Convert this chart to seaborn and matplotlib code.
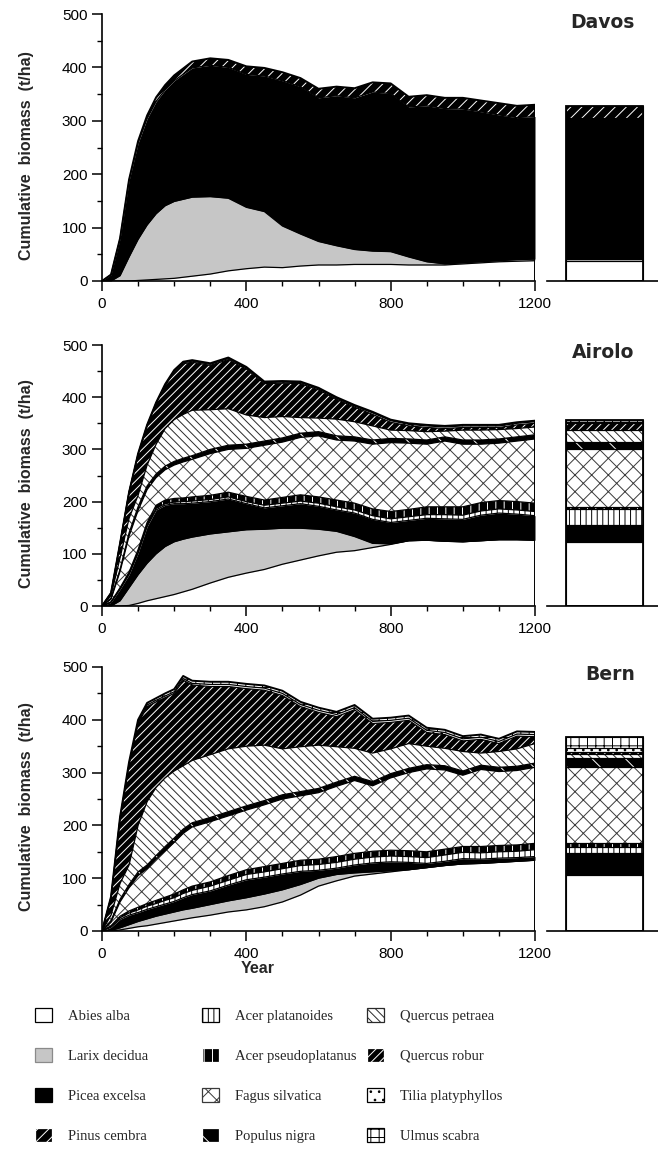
import numpy as np
import matplotlib
matplotlib.use("Agg")
import matplotlib.pyplot as plt
from matplotlib.patches import Patch
from matplotlib.ticker import MultipleLocator
import seaborn as sns

# ---------------- data ----------------
years = [0, 25, 50, 75, 100, 125, 150, 175, 200, 225, 250, 300, 350, 400, 450,
         500, 550, 600, 650, 700, 750, 800, 850, 900, 950, 1000, 1050, 1100, 1150, 1200]

species = ["Abies alba", "Larix decidua", "Picea excelsa", "Pinus cembra",
           "Acer platanoides", "Acer pseudoplatanus", "Fagus silvatica", "Populus nigra",
           "Quercus petraea", "Quercus robur", "Tilia platyphyllos", "Ulmus scabra"]

sites = ["Davos", "Airolo", "Bern"]

# Davos: upper edges of the stacked layers (t/ha) and thin-layer thickness
davos_abies_top = [0, 0, 0, 0, 1, 2, 3, 4, 5, 7, 9, 13, 19, 23, 26, 25, 28, 30, 30, 31,
                   31, 31, 30, 30, 30, 32, 34, 36, 37, 38]
davos_larix_top = [0, 0, 10, 45, 78, 105, 126, 141, 149, 153, 157, 158, 155, 138, 130,
                   103, 88, 74, 66, 59, 56, 55, 45, 36, 32, 34, 36, 38, 40, 41]
davos_total = [0, 12, 80, 190, 262, 310, 344, 367, 385, 398, 411, 417, 414, 402, 399,
               391, 380, 360, 364, 361, 372, 370, 345, 348, 343, 343, 338, 333, 328, 330]
davos_pinus = [0, 0, 1, 2, 4, 6, 8, 9, 10, 11, 12, 13, 14, 15, 15, 16, 16, 17, 17, 18,
               18, 19, 19, 20, 20, 21, 21, 22, 22, 22]

# Airolo
airolo_abies_top = [0, 0, 0, 1, 5, 10, 14, 18, 22, 27, 32, 44, 55, 63, 70, 80, 88, 96,
                    103, 106, 112, 118, 125, 126, 124, 123, 125, 127, 127, 126]
airolo_larix_top = [0, 0, 10, 35, 60, 82, 100, 114, 123, 128, 132, 138, 142, 146, 147,
                    149, 149, 147, 143, 133, 120, 119, 125, 126, 124, 123, 125, 127, 127, 126]
airolo_acer_top = [0, 8, 35, 65, 108, 160, 193, 203, 206, 207, 209, 212, 218, 210, 203,
                   208, 213, 209, 203, 197, 186, 181, 185, 190, 190, 190, 198, 202, 200, 197]
airolo_acer_pl = [0, 0, 1, 2, 2, 3, 3, 3, 3, 4, 4, 4, 4, 4, 5, 5, 5, 6, 6, 6, 7, 7, 7, 7,
                  8, 8, 8, 8, 8, 8]
airolo_acer_ps = [0, 1, 2, 3, 5, 5, 6, 7, 7, 7, 8, 8, 9, 10, 10, 11, 12, 12, 13, 13, 13,
                  14, 14, 15, 15, 16, 16, 16, 16, 16]
airolo_populus_top = [0, 15, 70, 140, 190, 230, 253, 268, 277, 283, 288, 300, 308, 310,
                      316, 322, 331, 334, 326, 324, 318, 321, 320, 318, 324, 318, 318, 320, 324, 328]
airolo_populus = [0, 2, 4, 6, 7, 7, 7, 7, 7, 7, 7, 8, 8, 8, 8, 8, 8, 8, 8, 8, 8, 8, 8, 8,
                  8, 8, 8, 8, 8, 8]
airolo_qpetraea_top = [0, 20, 92, 168, 212, 270, 310, 340, 357, 367, 375, 376, 378, 366,
                       361, 363, 361, 360, 358, 353, 345, 337, 336, 334, 335, 337, 337, 338, 340, 343]
airolo_tilia = [0, 0, 0, 0, 1, 1, 1, 2, 2, 2, 2, 2, 2, 2, 2, 2, 2, 2, 2, 2, 3, 3, 3, 3, 3,
                3, 3, 3, 3, 3]
airolo_ulmus = [0, 0, 0, 0, 1, 1, 1, 1, 2, 2, 2, 2, 2, 2, 2, 2, 2, 2, 2, 2, 2, 2, 2, 2, 2,
                2, 2, 2, 2, 2]
airolo_total = [0, 25, 120, 218, 292, 347, 390, 425, 452, 468, 471, 465, 476, 458, 430,
                431, 430, 418, 400, 385, 372, 357, 350, 347, 345, 347, 347, 347, 352, 355]

# Bern
bern_abies_top = [0, 0, 2, 5, 8, 10, 13, 16, 19, 22, 25, 30, 36, 40, 46, 55, 68, 85, 95,
                  104, 108, 112, 116, 120, 124, 127, 128, 130, 132, 134]
bern_larix_top = [0, 1, 6, 12, 18, 23, 28, 32, 36, 40, 43, 50, 57, 63, 70, 78, 88, 100,
                  107, 110, 112, 114, 116, 120, 124, 127, 128, 130, 132, 134]
bern_acer_top = [0, 10, 28, 38, 45, 52, 58, 64, 70, 78, 85, 93, 105, 116, 122, 128, 134,
                 136, 141, 147, 151, 153, 152, 150, 155, 160, 160, 162, 163, 166]
bern_acer_pl = [0, 2, 3, 4, 5, 6, 6, 7, 7, 8, 8, 9, 9, 10, 10, 10, 11, 11, 11, 11, 11, 11,
                11, 11, 12, 12, 12, 12, 12, 13]
bern_acer_ps = [0, 1, 3, 4, 5, 5, 6, 6, 7, 7, 8, 8, 9, 9, 10, 10, 10, 10, 11, 11, 11, 11,
                11, 11, 11, 11, 12, 12, 12, 12]
bern_populus_top = [0, 20, 60, 88, 112, 125, 143, 160, 176, 193, 205, 215, 226, 237, 247,
                    258, 264, 270, 282, 293, 283, 298, 308, 315, 313, 303, 314, 310, 312, 318]
bern_populus = [0, 3, 5, 6, 7, 7, 7, 8, 8, 8, 8, 8, 8, 8, 8, 8, 8, 8, 8, 8, 8, 8, 8, 8, 8,
                8, 8, 8, 8, 8]
bern_qpetraea_top = [0, 30, 90, 125, 200, 245, 272, 290, 303, 313, 323, 334, 345, 350,
                     352, 345, 349, 352, 349, 346, 337, 345, 355, 350, 346, 340, 337, 340, 345, 355]
bern_tilia = [0, 1, 2, 2, 3, 3, 3, 3, 3, 3, 3, 4, 4, 4, 4, 4, 4, 4, 4, 4, 4, 4, 4, 4, 4, 4,
              4, 4, 4, 4]
bern_ulmus = [0, 1, 2, 3, 4, 4, 4, 5, 5, 5, 5, 5, 5, 5, 5, 5, 5, 5, 5, 5, 5, 5, 5, 5, 5, 5,
              5, 5, 5, 5]
bern_total = [0, 65, 216, 320, 400, 432, 441, 450, 458, 483, 474, 472, 472, 468, 465, 455,
              434, 423, 415, 428, 402, 404, 408, 385, 381, 369, 372, 364, 378, 377]

# Equilibrium bars (t/ha per species, in species order)
davos_bar = [38, 4, 263, 22, 0, 0, 0, 0, 0, 0, 0, 0]
airolo_bar = [122, 0, 33, 0, 30, 5, 110, 15, 22, 13, 3, 3]
bern_bar = [106, 0, 41, 0, 13, 6, 145, 16, 9, 3, 7, 22]

# ---------------- styles ----------------
STYLE = {
    "Abies alba":          dict(fc="white",   hc="black", hatch=None),
    "Larix decidua":       dict(fc="#c6c6c6", hc="#8a8a8a", hatch=None),
    "Picea excelsa":       dict(fc="black",   hc="black", hatch=None),
    "Pinus cembra":        dict(fc="black",   hc="white", hatch="///"),
    "Acer platanoides":    dict(fc="white",   hc="black", hatch="|||"),
    "Acer pseudoplatanus": dict(fc="black",   hc="white", hatch="||"),
    "Fagus silvatica":     dict(fc="white",   hc="#3a3a3a", hatch="xx"),
    "Populus nigra":       dict(fc="black",   hc="white", hatch="\\"),
    "Quercus petraea":     dict(fc="white",   hc="#2a2a2a", hatch="\\\\\\\\"),
    "Quercus robur":       dict(fc="black",   hc="white", hatch="////"),
    "Tilia platyphyllos":  dict(fc="white",   hc="black", hatch=".."),
    "Ulmus scabra":        dict(fc="white",   hc="black", hatch="++"),
}

# ---------------- theme ----------------
sns.set_style("ticks")
plt.rcParams["font.family"] = ["Liberation Sans", "DejaVu Sans"]
plt.rcParams["hatch.linewidth"] = 0.7
plt.rcParams["axes.linewidth"] = 1.2
plt.rcParams["xtick.major.size"] = 7
plt.rcParams["ytick.major.size"] = 7
plt.rcParams["xtick.minor.size"] = 3.5
plt.rcParams["ytick.minor.size"] = 3.5
plt.rcParams["xtick.major.width"] = 1.1
plt.rcParams["ytick.major.width"] = 1.1
plt.rcParams["xtick.minor.width"] = 1.0
plt.rcParams["ytick.minor.width"] = 1.0
plt.rcParams["xtick.color"] = "black"
plt.rcParams["ytick.color"] = "black"
plt.rcParams["axes.edgecolor"] = "black"


def arr(x):
    return np.asarray(x, dtype=float)


def davos_layers():
    total = arr(davos_total)
    return [("Abies alba", arr(davos_abies_top)),
            ("Larix decidua", arr(davos_larix_top)),
            ("Picea excelsa", total - arr(davos_pinus)),
            ("Pinus cembra", total)]


def full_layers(abies, larix, acer_top, acer_pl, acer_ps, pop_top, pop, qpet_top,
                tilia, ulmus, total):
    acer_top = arr(acer_top)
    pop_top = arr(pop_top)
    total = arr(total)
    return [("Abies alba", arr(abies)),
            ("Larix decidua", arr(larix)),
            ("Picea excelsa", acer_top - arr(acer_ps) - arr(acer_pl)),
            ("Acer platanoides", acer_top - arr(acer_ps)),
            ("Acer pseudoplatanus", acer_top),
            ("Fagus silvatica", pop_top - arr(pop)),
            ("Populus nigra", pop_top),
            ("Quercus petraea", arr(qpet_top)),
            ("Quercus robur", total - arr(tilia) - arr(ulmus)),
            ("Tilia platyphyllos", total - arr(ulmus)),
            ("Ulmus scabra", total)]


site_layers = {
    "Davos": davos_layers(),
    "Airolo": full_layers(airolo_abies_top, airolo_larix_top, airolo_acer_top,
                          airolo_acer_pl, airolo_acer_ps, airolo_populus_top,
                          airolo_populus, airolo_qpetraea_top, airolo_tilia,
                          airolo_ulmus, airolo_total),
    "Bern": full_layers(bern_abies_top, bern_larix_top, bern_acer_top, bern_acer_pl,
                        bern_acer_ps, bern_populus_top, bern_populus,
                        bern_qpetraea_top, bern_tilia, bern_ulmus, bern_total),
}
site_bars = {"Davos": davos_bar, "Airolo": airolo_bar, "Bern": bern_bar}

# ---------------- figure ----------------
W, H = 658, 1152
fig = plt.figure(figsize=(W / 100, H / 100), dpi=100)

# panel geometry in pixels: (y of 0, y of 500)
panel_px = {"Davos": (281, 14), "Airolo": (606, 345), "Bern": (931, 667)}
x0_px, x1_px = 102, 535
bx0_px, bx1_px = 547, 658

yrs = np.asarray(years, dtype=float)

for i, site in enumerate(sites):
    yb, yt = panel_px[site]
    bottom = (H - yb) / H
    height = (yb - yt) / H
    ax = fig.add_axes([x0_px / W, bottom, (x1_px - x0_px) / W, height])
    bx = fig.add_axes([bx0_px / W, bottom, (bx1_px - bx0_px) / W, height])

    layers = site_layers[site]
    prev = np.zeros_like(yrs)
    for sp, top in layers:
        st = STYLE[sp]
        ax.fill_between(yrs, prev, top, facecolor=st["fc"], edgecolor=st["hc"],
                        hatch=st["hatch"], linewidth=0, zorder=2)
        prev = top
    for k, (sp, top) in enumerate(layers):
        lw = 1.4 if k == len(layers) - 1 else 0.9
        sns.lineplot(x=yrs, y=top, ax=ax, color="black", linewidth=lw,
                     estimator=None, sort=False, legend=False, zorder=3)
    total = layers[-1][1]
    ax.plot([yrs[-1], yrs[-1]], [0, total[-1]], color="black", lw=1.4, zorder=3)

    ax.set_xlim(0, 1200)
    ax.set_ylim(0, 500)
    ax.xaxis.set_major_locator(MultipleLocator(400))
    ax.xaxis.set_minor_locator(MultipleLocator(100))
    ax.yaxis.set_major_locator(MultipleLocator(100))
    ax.yaxis.set_minor_locator(MultipleLocator(50))
    ax.tick_params(axis="both", which="major", labelsize=11, pad=3.5)
    ax.tick_params(axis="x", which="major", pad=4.5)
    sns.despine(ax=ax)
    ax.spines["left"].set_zorder(5)
    ax.spines["bottom"].set_zorder(5)
    ax.set_xlabel("")
    ax.set_ylabel("Cumulative  biomass  (t/ha)", fontweight="bold", fontsize=11.5)
    ax.yaxis.set_label_coords(-0.158, 0.47)

    # equilibrium bar
    vals = site_bars[site]
    b = 0.0
    for sp, v in zip(species, vals):
        if v <= 0:
            continue
        st = STYLE[sp]
        bx.bar(0.516, v, width=0.698, bottom=b, color=st["fc"], edgecolor=st["hc"],
               hatch=st["hatch"], linewidth=0, zorder=2)
        bx.bar(0.516, v, width=0.698, bottom=b, fill=False, edgecolor="black",
               linewidth=0.8, zorder=3)
        b += v
    bx.bar(0.516, b, width=0.698, bottom=0, fill=False, edgecolor="black",
           linewidth=1.3, zorder=4)
    bx.set_xlim(0, 1)
    bx.set_ylim(0, 500)
    for s in ["left", "right", "top"]:
        bx.spines[s].set_visible(False)
    bx.set_xticks([])
    bx.set_yticks([])
    bx.spines["bottom"].set_zorder(5)
    bx.text(0.79, 485, site, ha="right", va="center", fontweight="bold", fontsize=13.5,
            family=["DejaVu Sans"])

    if site == "Bern":
        ax.set_xlabel("Year", fontweight="bold", fontsize=11.5)
        ax.xaxis.set_label_coords(0.36, -0.115)

# ---------------- legend (three columns) ----------------
col_x = [35, 202, 367]
top_px = 1008
for c in range(3):
    handles = []
    for sp in species[c * 4:(c + 1) * 4]:
        st = STYLE[sp]
        handles.append(Patch(facecolor=st["fc"], edgecolor=st["hc"], hatch=st["hatch"],
                             linewidth=0.9, label=sp))
    fig.legend(handles=handles, loc="upper left",
               bbox_to_anchor=(col_x[c] / W, (H - top_px) / H),
               frameon=False, borderpad=0, borderaxespad=0,
               handlelength=1.17, handleheight=1.1, handletextpad=1.1,
               labelspacing=1.71,
               prop={"family": ["Liberation Serif", "DejaVu Serif"], "size": 10.5})

fig.savefig("out.png", dpi=100)
